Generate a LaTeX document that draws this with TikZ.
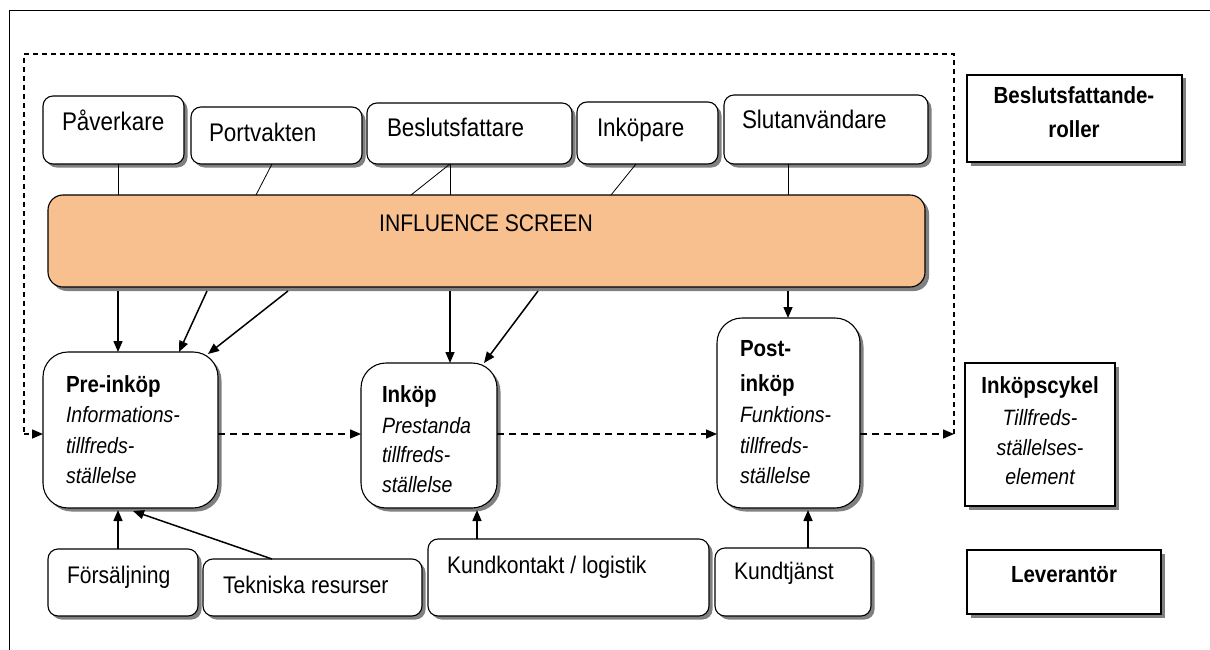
\documentclass[tikz,border=0pt]{standalone}
\usepackage{fontspec}
\setmainfont{Liberation Sans}[FakeStretch=0.88]
\usetikzlibrary{arrows.meta,shadows,calc}
\newcommand\fTop{\fontsize{25.5}{30}\selectfont}
\newcommand\fMid{\fontsize{24}{28}\selectfont}
\newcommand\fBold{\fontsize{23.3}{28}\selectfont\bfseries}
\newcommand\fIt{\fontsize{22.2}{27}\selectfont\itshape}
\definecolor{peach}{RGB}{248,191,143}
\definecolor{shade}{RGB}{128,128,128}
\tikzset{
  shbox/.style={draw, line width=1.1pt, fill=white, inner sep=0pt, outer sep=0pt,
    drop shadow={shadow xshift=3.5pt, shadow yshift=-3.5pt, fill=shade, opacity=1}},
  rbx/.style={shbox, rounded corners=#1},
  sbx/.style={shbox, sharp corners},
  txt/.style={inner sep=0pt, outer sep=0pt, anchor=base west},
  ctxt/.style={inner sep=0pt, outer sep=0pt, anchor=base},
  thin link/.style={line width=0.8pt},
  arr/.style={line width=1.5pt, -{Triangle[length=11pt,width=9pt]}},
  darr/.style={line width=1.5pt, dash pattern=on 7pt off 5pt, -{Triangle[length=11pt,width=9pt]}},
  loop/.style={line width=1.3pt, dash pattern=on 5pt off 4pt},
}
\begin{document}
\begin{tikzpicture}[x=1pt,y=-1pt]
\useasboundingbox (0,0) rectangle (1210,650);
% outer frame
\draw[line width=1pt] (9,650) -- (9,11) -- (1210,11);

% dashed loop coordinates
\coordinate (dl) at (24,434);
\coordinate (tl) at (24,54);
\coordinate (tr) at (954,54);
\coordinate (dr) at (954,434);

% top role boxes
\node[rbx=10pt, minimum width=141pt, minimum height=68pt] (pav) at (113.5,130) {};
\node[rbx=10pt, minimum width=171pt, minimum height=57pt] (port) at (276.5,135.5) {};
\node[rbx=10pt, minimum width=205pt, minimum height=61pt] (besl) at (469.5,133.5) {};
\node[rbx=10pt, minimum width=141pt, minimum height=62pt] (inkp) at (647.5,133) {};
\node[rbx=10pt, minimum width=204pt, minimum height=69pt] (slut) at (826,129.5) {};
\node[txt] at (62,131) {\fTop Påverkare};
\node[txt] at (209,142) {\fTop Portvakten};
\node[txt] at (387,137) {\fTop Beslutsfattare};
\node[txt] at (597,137) {\fTop Inköpare};
\node[txt] at (742,129) {\fTop Slutanvändare};

% influence screen
\node[rbx=15pt, fill=peach, minimum width=877pt, minimum height=92pt,
  drop shadow={shadow xshift=4pt, shadow yshift=-4pt, fill=shade, opacity=1}] (scr) at (486.5,241) {};
\node[ctxt] at (486,231) {\fMid INFLUENCE SCREEN};

% process boxes
\node[rbx=25pt, minimum width=175pt, minimum height=156pt] (pre) at (130.5,430) {};
\node[rbx=25pt, minimum width=136pt, minimum height=145pt] (ink) at (429,435.5) {};
\node[rbx=25pt, minimum width=143pt, minimum height=190pt] (post) at (788.5,413) {};
\node[txt] at (66,392) {\fBold Pre-inköp};
\node[txt] at (66,422) {\fIt Informations-};
\node[txt] at (66,453) {\fIt tillfreds-};
\node[txt] at (66,483) {\fIt ställelse};
\node[txt] at (382,402) {\fBold Inköp};
\node[txt] at (382,433) {\fIt Prestanda};
\node[txt] at (382,462) {\fIt tillfreds-};
\node[txt] at (382,492) {\fIt ställelse};
\node[txt] at (740,356) {\fBold Post-};
\node[txt] at (740,391) {\fBold inköp};
\node[txt] at (740,422) {\fIt Funktions-};
\node[txt] at (740,453) {\fIt tillfreds-};
\node[txt] at (740,483) {\fIt ställelse};

% supplier boxes
\node[rbx=10pt, minimum width=150pt, minimum height=67pt] (fors) at (123,582.5) {};
\node[rbx=10pt, minimum width=219pt, minimum height=57pt] (tek) at (312.5,587.5) {};
\node[rbx=10pt, minimum width=281pt, minimum height=77pt] (kund) at (568.5,577.5) {};
\node[rbx=10pt, minimum width=156pt, minimum height=68pt] (tjan) at (793,582) {};
\node[txt] at (67,583) {\fMid Försäljning};
\node[txt] at (223,593) {\fMid Tekniska resurser};
\node[txt] at (447,573) {\fMid Kundkontakt / logistik};
\node[txt] at (734,579) {\fMid Kundtjänst};

% legend boxes
\node[sbx, minimum width=215pt, minimum height=87pt] (roll) at (1074.5,118.5) {};
\node[ctxt] at (1074,104) {\fBold Beslutsfattande-};
\node[ctxt] at (1074,138) {\fBold roller};
\node[sbx, minimum width=150pt, minimum height=143pt] (cyk) at (1040,434.5) {};
\node[ctxt] at (1040,393) {\fBold Inköpscykel};
\node[ctxt] at (1040,425) {\fIt Tillfreds-};
\node[ctxt] at (1040,455) {\fIt ställelses-};
\node[ctxt] at (1040,484) {\fIt element};
\node[sbx, minimum width=194pt, minimum height=64pt] (lev) at (1064,582) {};
\node[ctxt] at (1064,582) {\fBold Leverantör};

% role links to screen
\draw[thin link] ([xshift=4.5pt]pav.south) -- ([xshift=4.5pt]pav.south |- scr.north);
\draw[thin link] ([xshift=-4.5pt]port.south) -- ([xshift=-230.5pt]scr.north);
\draw[thin link] ([xshift=-19.5pt]besl.south) -- ([xshift=-19.5pt]besl.south |- scr.north);
\draw[thin link] ([xshift=-19.5pt]besl.south) -- ([xshift=-75.5pt]scr.north);
\draw[thin link] ([xshift=-11.5pt]inkp.south) -- ([xshift=124.5pt]scr.north);
\draw[thin link] ([xshift=-38pt]slut.south) -- ([xshift=-38pt]slut.south |- scr.north);

% screen to processes
\draw[arr] ([xshift=-368.5pt,yshift=-4pt]scr.south) -- ([xshift=-12.5pt]pre.north);
\draw[arr] ([xshift=-279.5pt,yshift=-4pt]scr.south) -- ([xshift=48.5pt]pre.north);
\draw[arr] ([xshift=-198.5pt,yshift=-4pt]scr.south) -- ([xshift=77.5pt,yshift=-2pt]pre.north);
\draw[arr] ([xshift=-36.5pt,yshift=-4pt]scr.south) -- ([xshift=21pt]ink.north);
\draw[arr] ([xshift=51.5pt,yshift=-4pt]scr.south) -- ([xshift=55pt]ink.north);
\draw[arr] ([xshift=301.5pt,yshift=-4pt]scr.south) -- ([xshift=-0.5pt]post.north);

% suppliers to processes
\draw[arr] ([xshift=-5pt]fors.north) -- ([xshift=-12.5pt,yshift=-2pt]pre.south);
\draw[arr] ([xshift=-40.5pt]tek.north) -- ([xshift=2.5pt,yshift=-3pt]pre.south);
\draw[arr] ([xshift=-91.5pt]kund.north) -- ([xshift=48pt,yshift=-2pt]ink.south);
\draw[arr] ([xshift=15pt]tjan.north) -- ([xshift=19.5pt,yshift=-2pt]post.south);

% purchase cycle dashed arrows
\draw[darr] (pre.east |- dl) -- (ink.west |- dl);
\draw[darr] (ink.east |- dl) -- (post.west |- dl);
\draw[darr] (post.east |- dl) -- (dr);
\draw[loop] (dr) -- (tr) -- (tl) -- (dl);
\draw[darr, dash pattern=on 5pt off 4pt] (dl) -- (pre.west |- dl);
\end{tikzpicture}
\end{document}
